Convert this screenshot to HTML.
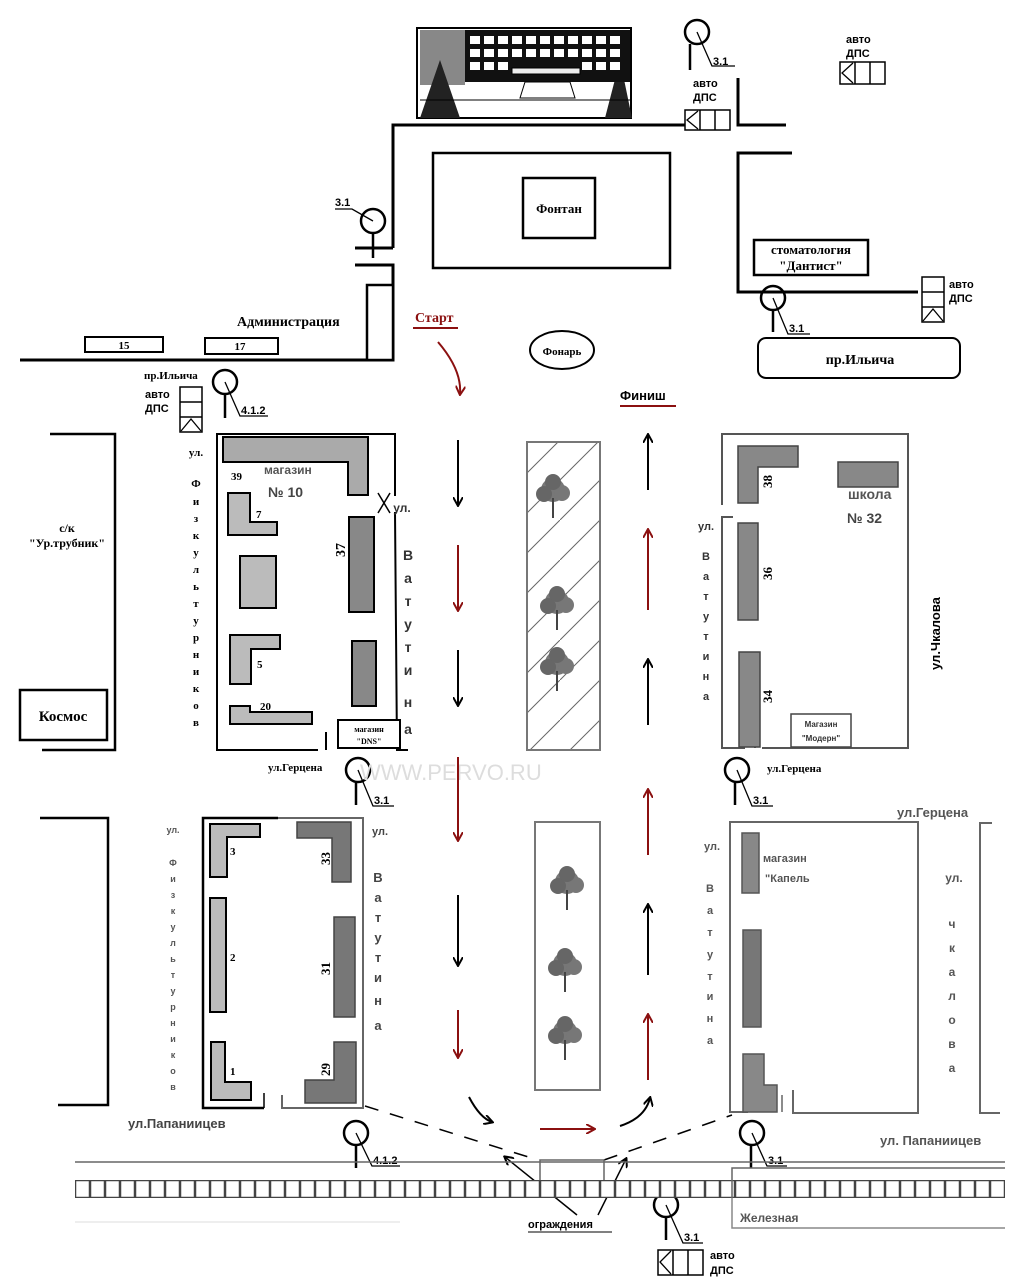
<!DOCTYPE html>
<html><head><meta charset="utf-8"><style>
html,body{margin:0;padding:0;background:#fff}
svg{display:block}
.s{font-family:"Liberation Serif",serif;font-weight:bold}
.a{font-family:"Liberation Sans",sans-serif;font-weight:bold}
.g{fill:#555;font-family:"Liberation Sans",sans-serif;font-weight:bold}
</style></head><body>
<svg width="1024" height="1287" viewBox="0 0 1024 1287" xmlns="http://www.w3.org/2000/svg">
<defs>
<pattern id="hatch" width="40" height="40" patternUnits="userSpaceOnUse"><path d="M0 40 L40 0" stroke="#666" stroke-width="1"/></pattern>
<pattern id="rail" x="75" y="1180" width="15" height="18" patternUnits="userSpaceOnUse"><rect x="0.5" y="0.5" width="14" height="17" fill="#fff" stroke="#444" stroke-width="1.5"/></pattern>
<marker id="ab" markerWidth="10" markerHeight="10" refX="8" refY="5" orient="auto" markerUnits="userSpaceOnUse"><path d="M0 0 L9 5 L0 10" fill="none" stroke="#000" stroke-width="2"/></marker>
<marker id="ar" markerWidth="10" markerHeight="10" refX="8" refY="5" orient="auto" markerUnits="userSpaceOnUse"><path d="M0 0 L9 5 L0 10" fill="none" stroke="#8b1010" stroke-width="2"/></marker>
<g id="tree"><circle cx="0" cy="0" r="12" fill="#777"/><circle cx="-9" cy="4" r="8" fill="#666"/><circle cx="9" cy="3" r="8" fill="#777"/><circle cx="0" cy="-8" r="8" fill="#666"/><line x1="0" y1="8" x2="0" y2="28" stroke="#444" stroke-width="2"/></g>
</defs>

<!-- top building -->
<rect x="417" y="28" width="214" height="90" fill="#fff" stroke="#000" stroke-width="2"/>
<rect x="420" y="30" width="45" height="55" fill="#888"/>
<rect x="590" y="32" width="38" height="50" fill="#999"/>
<path d="M420 118 L440 60 L460 118Z" fill="#222"/>
<path d="M605 118 L620 60 L632 118Z" fill="#222"/>
<rect x="465" y="30" width="165" height="52" fill="#111"/>
<g fill="#fff">
<rect x="470" y="36" width="10" height="8"/><rect x="484" y="36" width="10" height="8"/><rect x="498" y="36" width="10" height="8"/><rect x="512" y="36" width="10" height="8"/><rect x="526" y="36" width="10" height="8"/><rect x="540" y="36" width="10" height="8"/><rect x="554" y="36" width="10" height="8"/><rect x="568" y="36" width="10" height="8"/><rect x="582" y="36" width="10" height="8"/><rect x="596" y="36" width="10" height="8"/><rect x="610" y="36" width="10" height="8"/>
<rect x="470" y="49" width="10" height="8"/><rect x="484" y="49" width="10" height="8"/><rect x="498" y="49" width="10" height="8"/><rect x="512" y="49" width="10" height="8"/><rect x="526" y="49" width="10" height="8"/><rect x="540" y="49" width="10" height="8"/><rect x="554" y="49" width="10" height="8"/><rect x="568" y="49" width="10" height="8"/><rect x="582" y="49" width="10" height="8"/><rect x="596" y="49" width="10" height="8"/><rect x="610" y="49" width="10" height="8"/>
<rect x="470" y="62" width="10" height="8"/><rect x="484" y="62" width="10" height="8"/><rect x="498" y="62" width="10" height="8"/><rect x="582" y="62" width="10" height="8"/><rect x="596" y="62" width="10" height="8"/><rect x="610" y="62" width="10" height="8"/>
</g>
<rect x="512" y="68" width="68" height="6" fill="#eee" stroke="#000"/>
<path d="M520 98 L575 98 L570 82 L525 82Z" fill="#fff" stroke="#000"/>
<line x1="420" y1="100" x2="630" y2="100" stroke="#000"/>

<!-- top roads -->
<g stroke="#000" stroke-width="3" fill="none">
<polyline points="393,248 393,125 685,125"/>
<line x1="355" y1="248" x2="393" y2="248"/>
<polyline points="355,265 393,265 393,360 20,360"/>
<polyline points="738,78 738,125 786,125"/>
<polyline points="792,153 738,153 738,292 918,292"/>
</g>
<rect x="367" y="285" width="26" height="75" fill="#fff" stroke="#000" stroke-width="2.5"/>
<rect x="433" y="153" width="237" height="115" fill="none" stroke="#000" stroke-width="2.5"/>
<rect x="523" y="178" width="72" height="60" fill="none" stroke="#000" stroke-width="2.5"/>
<text x="559" y="213" class="s" font-size="13" text-anchor="middle">Фонтан</text>
<rect x="754" y="240" width="114" height="35" fill="#fff" stroke="#000" stroke-width="2.5"/>
<text x="811" y="254" class="s" font-size="13" text-anchor="middle">стоматология</text>
<text x="811" y="270" class="s" font-size="13" text-anchor="middle">"Дантист"</text>
<rect x="758" y="338" width="202" height="40" rx="8" fill="#fff" stroke="#000" stroke-width="2"/>
<text x="860" y="364" class="s" font-size="14" text-anchor="middle">пр.Ильича</text>
<ellipse cx="562" cy="350" rx="32" ry="19" fill="none" stroke="#000" stroke-width="2"/>
<text x="562" y="355" class="s" font-size="11" text-anchor="middle">Фонарь</text>
<text x="415" y="322" class="s" font-size="14" fill="#8b1010">Старт</text>
<line x1="413" y1="328" x2="458" y2="328" stroke="#8b1010" stroke-width="2"/>
<text x="620" y="400" class="a" font-size="13">Финиш</text>
<line x1="620" y1="406" x2="676" y2="406" stroke="#8b1010" stroke-width="2"/>
<text x="237" y="326" class="s" font-size="14">Администрация</text>
<rect x="85" y="337" width="78" height="15" fill="none" stroke="#000" stroke-width="2"/>
<text x="124" y="349" class="s" font-size="11" text-anchor="middle">15</text>
<rect x="205" y="338" width="73" height="16" fill="none" stroke="#000" stroke-width="2"/>
<text x="240" y="350" class="s" font-size="11" text-anchor="middle">17</text>
<text x="144" y="379" class="s" font-size="11">пр.Ильича</text>

<!-- signs -->
<g stroke="#000" stroke-width="2.5" fill="none">
<circle cx="697" cy="32" r="12"/><line x1="690" y1="44" x2="690" y2="70"/>
<circle cx="373" cy="221" r="12"/><line x1="373" y1="233" x2="373" y2="258"/>
<circle cx="773" cy="298" r="12"/><line x1="773" y1="310" x2="773" y2="332"/>
<circle cx="225" cy="382" r="12"/><line x1="225" y1="394" x2="225" y2="418"/>
<circle cx="358" cy="770" r="12"/><line x1="356" y1="782" x2="356" y2="805"/>
<circle cx="737" cy="770" r="12"/><line x1="735" y1="782" x2="735" y2="805"/>
<circle cx="356" cy="1133" r="12"/><line x1="356" y1="1145" x2="356" y2="1168"/>
<circle cx="752" cy="1133" r="12"/><line x1="751" y1="1145" x2="751" y2="1168"/>
<circle cx="666" cy="1205" r="12"/><line x1="666" y1="1217" x2="666" y2="1240"/>
</g>
<g stroke="#000" stroke-width="1.3" fill="none">
<polyline points="697,32 712,66 735,66"/>
<polyline points="373,221 352,209 335,209"/>
<polyline points="773,298 788,334 810,334"/>
<polyline points="225,382 240,416 268,416"/>
<polyline points="358,770 373,806 394,806"/>
<polyline points="737,770 752,806 773,806"/>
<polyline points="356,1133 372,1166 400,1166"/>
<polyline points="752,1133 767,1166 787,1166"/>
<polyline points="666,1205 683,1243 703,1243"/>
</g>
<g class="a" font-size="11">
<text x="713" y="65">3.1</text><text x="335" y="206">3.1</text><text x="789" y="332">3.1</text>
<text x="241" y="414">4.1.2</text><text x="374" y="804">3.1</text><text x="753" y="804">3.1</text>
<text x="373" y="1164">4.1.2</text><text x="768" y="1164">3.1</text><text x="684" y="1241">3.1</text>
</g>

<!-- DPS boxes -->
<g stroke="#000" stroke-width="1.5" fill="#fff">
<rect x="685" y="110" width="45" height="20"/><line x1="700" y1="110" x2="700" y2="130"/><line x1="715" y1="110" x2="715" y2="130"/>
<rect x="840" y="62" width="45" height="22"/><line x1="855" y1="62" x2="855" y2="84"/><line x1="870" y1="62" x2="870" y2="84"/>
<rect x="658" y="1250" width="45" height="25"/><line x1="673" y1="1250" x2="673" y2="1275"/><line x1="688" y1="1250" x2="688" y2="1275"/>
<rect x="180" y="387" width="22" height="45"/><line x1="180" y1="402" x2="202" y2="402"/><line x1="180" y1="417" x2="202" y2="417"/>
<rect x="922" y="277" width="22" height="45"/><line x1="922" y1="292" x2="944" y2="292"/><line x1="922" y1="307" x2="944" y2="307"/>
</g>
<g stroke="#000" stroke-width="1.3" fill="none">
<polyline points="698,111 687,120 698,129"/><polyline points="853,63 842,73 853,83"/><polyline points="671,1251 660,1262 671,1274"/>
<polyline points="181,431 191,419 201,431"/><polyline points="923,321 933,309 943,321"/>
</g>
<g class="a" font-size="11">
<text x="693" y="87">авто</text><text x="693" y="101">ДПС</text>
<text x="846" y="43">авто</text><text x="846" y="57">ДПС</text>
<text x="145" y="398">авто</text><text x="145" y="412">ДПС</text>
<text x="949" y="288">авто</text><text x="949" y="302">ДПС</text>
<text x="710" y="1259">авто</text><text x="710" y="1274">ДПС</text>
</g>

<!-- upper left -->
<polyline points="50,434 115,434 115,750 42,750" fill="none" stroke="#000" stroke-width="2.5"/>
<rect x="20" y="690" width="87" height="50" fill="none" stroke="#000" stroke-width="2.5"/>
<text x="63" y="721" class="s" font-size="15" text-anchor="middle">Космос</text>
<text x="67" y="532" class="s" font-size="12" text-anchor="middle">с/к</text>
<text x="67" y="547" class="s" font-size="12" text-anchor="middle">"Ур.трубник"</text>
<text class="s" font-size="11" text-anchor="middle"><tspan x="196" y="456">ул.</tspan><tspan x="196" y="487">Ф</tspan><tspan x="196" y="505">и</tspan><tspan x="196" y="522">з</tspan><tspan x="196" y="539">к</tspan><tspan x="196" y="556">у</tspan><tspan x="196" y="573">л</tspan><tspan x="196" y="590">ь</tspan><tspan x="196" y="607">т</tspan><tspan x="196" y="624">у</tspan><tspan x="196" y="641">р</tspan><tspan x="196" y="658">н</tspan><tspan x="196" y="675">и</tspan><tspan x="196" y="692">к</tspan><tspan x="196" y="709">о</tspan><tspan x="196" y="726">в</tspan></text>

<polyline points="318,750 217,750 217,434 395,434 395,496" fill="none" stroke="#000" stroke-width="2"/>
<polyline points="395,512 397,750 408,750" fill="none" stroke="#000" stroke-width="2"/>
<line x1="326" y1="732" x2="326" y2="750" stroke="#000" stroke-width="2"/>
<line x1="378" y1="493" x2="390" y2="513" stroke="#000" stroke-width="1.5"/><line x1="390" y1="493" x2="378" y2="513" stroke="#000" stroke-width="1.5"/>
<path d="M223 437 H347 V437 H368 V495 H348 V462 H250 V462 H249 V462 H223Z" fill="#aaa" stroke="#000" stroke-width="2"/>
<path d="M228 493 H250 V522 H277 V535 H228Z" fill="#bbb" stroke="#000" stroke-width="2"/>
<rect x="240" y="556" width="36" height="52" fill="#bbb" stroke="#000" stroke-width="2"/>
<path d="M230 635 H280 V649 H251 V684 H230Z" fill="#bbb" stroke="#000" stroke-width="2"/>
<path d="M230 706 H250 V712 H312 V724 H230Z" fill="#bbb" stroke="#000" stroke-width="2"/>
<rect x="349" y="517" width="25" height="95" fill="#888" stroke="#000" stroke-width="2"/>
<rect x="352" y="641" width="24" height="65" fill="#888" stroke="#000" stroke-width="2"/>
<rect x="338" y="720" width="62" height="28" fill="#fff" stroke="#000" stroke-width="2"/>
<text x="369" y="732" class="s" font-size="8" text-anchor="middle">магазин</text>
<text x="369" y="744" class="s" font-size="8" text-anchor="middle">"DNS"</text>
<text x="231" y="480" class="s" font-size="11">39</text>
<text x="256" y="518" class="s" font-size="11">7</text>
<text x="257" y="668" class="s" font-size="11">5</text>
<text x="260" y="710" class="s" font-size="11">20</text>
<text x="264" y="474" class="g" font-size="12">магазин</text>
<text x="268" y="497" class="a" font-size="14" fill="#444">№ 10</text>
<text x="0" y="0" class="s" font-size="14" transform="translate(345,550) rotate(-90)" text-anchor="middle">37</text>
<text class="a" font-size="14" text-anchor="middle" fill="#333"><tspan x="402" y="512" font-size="12">ул.</tspan><tspan x="408" y="560">В</tspan><tspan x="408" y="583">а</tspan><tspan x="408" y="606">т</tspan><tspan x="408" y="629">у</tspan><tspan x="408" y="652">т</tspan><tspan x="408" y="675">и</tspan><tspan x="408" y="707">н</tspan><tspan x="408" y="734">а</tspan></text>
<text x="268" y="771" class="s" font-size="11">ул.Герцена</text>

<!-- upper right -->
<polyline points="722,505 722,434 908,434 908,748 762,748" fill="none" stroke="#555" stroke-width="2"/>
<polyline points="733,517 722,517 722,748 745,748" fill="none" stroke="#555" stroke-width="2"/>
<line x1="755" y1="732" x2="755" y2="748" stroke="#555" stroke-width="2"/>
<path d="M738 446 H798 V467 H758 V503 H738Z" fill="#888" stroke="#444" stroke-width="1.5"/>
<rect x="738" y="523" width="20" height="97" fill="#888" stroke="#444" stroke-width="1.5"/>
<rect x="739" y="652" width="21" height="95" fill="#888" stroke="#444" stroke-width="1.5"/>
<rect x="838" y="462" width="60" height="25" fill="#888" stroke="#444" stroke-width="1.5"/>
<rect x="791" y="714" width="60" height="33" fill="#fff" stroke="#444" stroke-width="1.5"/>
<text x="821" y="727" class="a" font-size="8" text-anchor="middle" fill="#333">Магазин</text>
<text x="821" y="741" class="a" font-size="8" text-anchor="middle" fill="#333">"Модерн"</text>
<text x="848" y="499" class="g" font-size="14">школа</text>
<text x="847" y="523" class="a" font-size="14" fill="#444">№ 32</text>
<text class="s" font-size="13" transform="translate(772,488) rotate(-90)">38</text>
<text class="s" font-size="13" transform="translate(772,580) rotate(-90)">36</text>
<text class="s" font-size="13" transform="translate(772,703) rotate(-90)">34</text>
<text class="a" font-size="11" fill="#333" text-anchor="middle"><tspan x="706" y="530">ул.</tspan><tspan x="706" y="560">В</tspan><tspan x="706" y="580">а</tspan><tspan x="706" y="600">т</tspan><tspan x="706" y="620">у</tspan><tspan x="706" y="640">т</tspan><tspan x="706" y="660">и</tspan><tspan x="706" y="680">н</tspan><tspan x="706" y="700">а</tspan></text>
<text class="a" font-size="13" transform="translate(940,670) rotate(-90)" font-weight="normal">ул.Чкалова</text>
<text x="767" y="772" class="s" font-size="11">ул.Герцена</text>

<!-- medians -->
<rect x="527" y="442" width="73" height="308" fill="url(#hatch)" stroke="#777" stroke-width="2"/>
<rect x="535" y="822" width="65" height="268" fill="#fff" stroke="#777" stroke-width="2"/>
<use href="#tree" x="553" y="490"/><use href="#tree" x="557" y="602"/><use href="#tree" x="557" y="663"/>
<use href="#tree" x="567" y="882"/><use href="#tree" x="565" y="964"/><use href="#tree" x="565" y="1032"/>
<text x="360" y="780" font-family="Liberation Sans,sans-serif" font-size="22" fill="#ddd">WWW.PERVO.RU</text>

<!-- direction arrows -->
<g stroke-width="2" fill="none">
<path d="M438 342 Q462 370 460 394" stroke="#8b1010" marker-end="url(#ar)"/>
<line x1="458" y1="440" x2="458" y2="505" stroke="#000" marker-end="url(#ab)"/>
<line x1="458" y1="545" x2="458" y2="610" stroke="#8b1010" marker-end="url(#ar)"/>
<line x1="458" y1="650" x2="458" y2="705" stroke="#000" marker-end="url(#ab)"/>
<line x1="458" y1="757" x2="458" y2="840" stroke="#8b1010" marker-end="url(#ar)"/>
<line x1="458" y1="895" x2="458" y2="965" stroke="#000" marker-end="url(#ab)"/>
<line x1="458" y1="1010" x2="458" y2="1057" stroke="#8b1010" marker-end="url(#ar)"/>
<line x1="648" y1="490" x2="648" y2="435" stroke="#000" marker-end="url(#ab)"/>
<line x1="648" y1="610" x2="648" y2="530" stroke="#8b1010" marker-end="url(#ar)"/>
<line x1="648" y1="725" x2="648" y2="660" stroke="#000" marker-end="url(#ab)"/>
<line x1="648" y1="855" x2="648" y2="790" stroke="#8b1010" marker-end="url(#ar)"/>
<line x1="648" y1="975" x2="648" y2="905" stroke="#000" marker-end="url(#ab)"/>
<line x1="648" y1="1080" x2="648" y2="1015" stroke="#8b1010" marker-end="url(#ar)"/>
<path d="M469 1097 Q480 1118 492 1122" stroke="#000" marker-end="url(#ab)"/>
<line x1="540" y1="1129" x2="594" y2="1129" stroke="#8b1010" marker-end="url(#ar)"/>
<path d="M620 1126 Q645 1118 650 1098" stroke="#000" marker-end="url(#ab)"/>
<line x1="577" y1="1215" x2="505" y2="1157" stroke="#000" stroke-width="1.5" marker-end="url(#ab)"/>
<line x1="598" y1="1215" x2="626" y2="1159" stroke="#000" stroke-width="1.5" marker-end="url(#ab)"/>
</g>
<line x1="365" y1="1106" x2="538" y2="1160" stroke="#000" stroke-width="1.5" stroke-dasharray="14,12"/>
<line x1="604" y1="1160" x2="732" y2="1115" stroke="#000" stroke-width="1.5" stroke-dasharray="14,12"/>
<text x="528" y="1228" class="a" font-size="11">ограждения</text>
<line x1="528" y1="1232" x2="612" y2="1232" stroke="#000" stroke-width="1"/>

<!-- lower left -->
<polyline points="40,818 108,818 108,1105 58,1105" fill="none" stroke="#000" stroke-width="2.5"/>
<polyline points="264,1108 203,1108 203,818 278,818" fill="none" stroke="#000" stroke-width="2.5"/>
<polyline points="278,818 363,818 363,1108 282,1108 282,1095" fill="none" stroke="#666" stroke-width="2"/>
<line x1="264" y1="1093" x2="264" y2="1108" stroke="#000" stroke-width="1.5"/>
<path d="M210 824 H260 V837 H227 V877 H210Z" fill="#bbb" stroke="#000" stroke-width="2"/>
<rect x="210" y="898" width="16" height="114" fill="#bbb" stroke="#000" stroke-width="2"/>
<path d="M211 1042 H225 V1082 H251 V1100 H211Z" fill="#bbb" stroke="#000" stroke-width="2"/>
<path d="M297 822 H351 V882 H332 V838 H297Z" fill="#777" stroke="#444" stroke-width="1.5"/>
<rect x="334" y="917" width="21" height="100" fill="#777" stroke="#444" stroke-width="1.5"/>
<path d="M334 1042 H356 V1103 H305 V1080 H334Z" fill="#777" stroke="#444" stroke-width="1.5"/>
<text x="230" y="855" class="s" font-size="11">3</text>
<text x="230" y="961" class="s" font-size="11">2</text>
<text x="230" y="1075" class="s" font-size="11">1</text>
<text class="s" font-size="13" transform="translate(330,865) rotate(-90)">33</text>
<text class="s" font-size="13" transform="translate(330,975) rotate(-90)">31</text>
<text class="s" font-size="13" transform="translate(330,1076) rotate(-90)">29</text>
<text class="a" font-size="9" fill="#555" text-anchor="middle"><tspan x="173" y="833">ул.</tspan><tspan x="173" y="866">Ф</tspan><tspan x="173" y="882">и</tspan><tspan x="173" y="898">з</tspan><tspan x="173" y="914">к</tspan><tspan x="173" y="930">у</tspan><tspan x="173" y="946">л</tspan><tspan x="173" y="962">ь</tspan><tspan x="173" y="978">т</tspan><tspan x="173" y="994">у</tspan><tspan x="173" y="1010">р</tspan><tspan x="173" y="1026">н</tspan><tspan x="173" y="1042">и</tspan><tspan x="173" y="1058">к</tspan><tspan x="173" y="1074">о</tspan><tspan x="173" y="1090">в</tspan></text>
<text class="a" font-size="13" fill="#444" text-anchor="middle"><tspan x="380" y="835" font-size="11">ул.</tspan><tspan x="378" y="882">В</tspan><tspan x="378" y="902">а</tspan><tspan x="378" y="922">т</tspan><tspan x="378" y="942">у</tspan><tspan x="378" y="962">т</tspan><tspan x="378" y="982">и</tspan><tspan x="378" y="1005">н</tspan><tspan x="378" y="1030">а</tspan></text>
<text x="128" y="1128" class="a" font-size="13" fill="#444">ул.Папаниицев</text>

<!-- lower right -->
<polyline points="748,1112 730,1112 730,822 918,822 918,1113 793,1113 793,1090" fill="none" stroke="#666" stroke-width="2"/>
<line x1="782" y1="1095" x2="782" y2="1112" stroke="#666" stroke-width="1.5"/>
<polyline points="992,823 980,823 980,1113 1000,1113" fill="none" stroke="#666" stroke-width="2"/>
<rect x="742" y="833" width="17" height="60" fill="#888" stroke="#555" stroke-width="1.5"/>
<rect x="743" y="930" width="18" height="97" fill="#777" stroke="#555" stroke-width="1.5"/>
<path d="M743 1054 H764 V1085 H777 V1112 H743Z" fill="#888" stroke="#555" stroke-width="1.5"/>
<text x="763" y="862" class="g" font-size="11">магазин</text>
<text x="765" y="882" class="g" font-size="11">"Капель</text>
<text x="897" y="817" class="g" font-size="13">ул.Герцена</text>
<text class="a" font-size="11" fill="#555" text-anchor="middle"><tspan x="712" y="850">ул.</tspan><tspan x="710" y="892">В</tspan><tspan x="710" y="914">а</tspan><tspan x="710" y="936">т</tspan><tspan x="710" y="958">у</tspan><tspan x="710" y="980">т</tspan><tspan x="710" y="1000">и</tspan><tspan x="710" y="1022">н</tspan><tspan x="710" y="1044">а</tspan></text>
<text class="a" font-size="12" fill="#555" text-anchor="middle"><tspan x="954" y="882">ул.</tspan><tspan x="952" y="928">ч</tspan><tspan x="952" y="952">к</tspan><tspan x="952" y="976">а</tspan><tspan x="952" y="1000">л</tspan><tspan x="952" y="1024">о</tspan><tspan x="952" y="1048">в</tspan><tspan x="952" y="1072">а</tspan></text>
<text x="880" y="1145" class="g" font-size="13">ул. Папаниицев</text>

<!-- railway -->
<line x1="75" y1="1162" x2="1005" y2="1162" stroke="#666" stroke-width="1.5"/>
<rect x="75" y="1180" width="930" height="18" fill="url(#rail)"/>
<polyline points="540,1180 540,1160 604,1160 604,1180" fill="none" stroke="#666" stroke-width="1.5"/>
<polyline points="732,1198 732,1168 1005,1168" fill="none" stroke="#666" stroke-width="1.5"/>
<polyline points="732,1198 732,1228 1005,1228" fill="none" stroke="#888" stroke-width="1.5"/>
<text x="740" y="1222" class="g" font-size="12">Железная</text>
<line x1="75" y1="1222" x2="400" y2="1222" stroke="#ddd" stroke-width="1"/>
</svg>
</body></html>
